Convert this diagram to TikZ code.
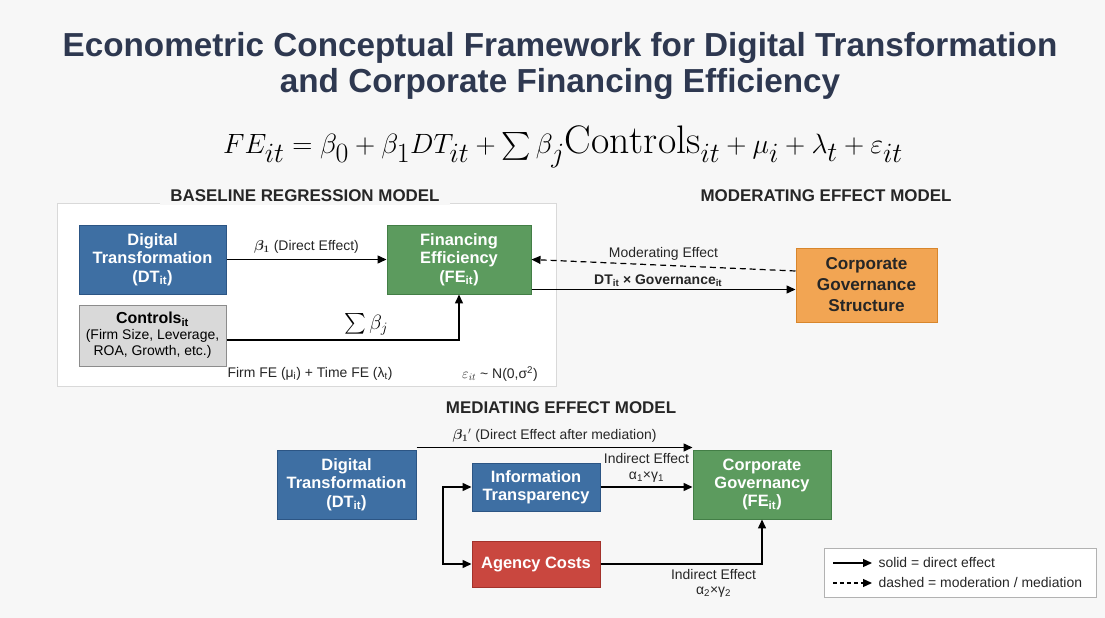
\documentclass[tikz,border=0pt]{standalone}
\usepackage{amsmath}
\usepackage{fontspec}
\setsansfont{Liberation Sans}
\renewcommand{\familydefault}{\sfdefault}
\usepackage{xcolor}
\usetikzlibrary{
    positioning,
    arrows.meta,
    calc
}

\definecolor{pagebg}{HTML}{F7F7F7}
\definecolor{titleblue}{HTML}{2E3850}
\definecolor{dtblue}{HTML}{3E6FA3}
\definecolor{dtedge}{HTML}{2C5584}
\definecolor{fegreen}{HTML}{5C9B5E}
\definecolor{feedge}{HTML}{437E46}
\definecolor{govorange}{HTML}{F2A553}
\definecolor{govedge}{HTML}{D8862C}
\definecolor{costred}{HTML}{C9473F}
\definecolor{costedge}{HTML}{A3322B}
\definecolor{ctrlgray}{HTML}{D9D9D9}

\begin{document}
\begin{tikzpicture}[
      x=1bp, y=-1bp,
      block/.style={rectangle, draw, line width=1pt, align=center, inner sep=2pt,
          font=\fontsize{16.5}{18.5}\selectfont\bfseries},
      dtblock/.style={block, fill=dtblue, draw=dtedge, text=white},
      feblock/.style={block, fill=fegreen, draw=feedge, text=white},
      govblock/.style={block, fill=govorange, draw=govedge, text=black!85},
      costblock/.style={block, fill=costred, draw=costedge, text=white},
      ctrlblock/.style={block, fill=ctrlgray, draw=black!45, text=black,
          font=\fontsize{14}{16}\selectfont},
      arrow/.style={-{Triangle[length=9pt,width=8pt]}, line width=1.5pt},
      dasharrow/.style={arrow, dashed, dash pattern=on 6pt off 4pt, line width=1.2pt},
      head/.style={font=\fontsize{17}{19}\selectfont\bfseries, text=black!85},
      lbl/.style={font=\fontsize{14}{15.5}\selectfont, text=black!85, align=center},
      frame/.style={draw=black!15, line width=1pt, fill=white}
    ]
    \fill[pagebg] (0,0) rectangle (1105,618);
    \useasboundingbox (0,0) rectangle (1105,618);

    \node[font=\fontsize{33.4}{37}\selectfont\bfseries, text=titleblue, align=center] (title) at (560,66)
        {Econometric Conceptual Framework for Digital Transformation\\and Corporate Financing Efficiency};
    \node[font=\fontsize{35.5}{40}\selectfont] (eqn) at (563,147)
        {\scalebox{1.125}{$FE_{it} = \beta_0 + \beta_1 DT_{it} + \textstyle\sum\beta_j \mathrm{Controls}_{it} + \mu_i + \lambda_t + \varepsilon_{it}$}};

    \draw[frame] (57,203) rectangle (556,386);
    \node[head, fill=pagebg, inner xsep=10pt] (basehead) at (305,196) {BASELINE REGRESSION MODEL};
    \node[head] (modhead) at (826,196) {MODERATING EFFECT MODEL};
    \node[head] (medhead) at (561,408) {MEDIATING EFFECT MODEL};

    \node[dtblock, minimum width=147bp, minimum height=69bp] (dt) at (152.5,259.5)
        {Digital\\Transformation\\(DT\textsubscript{it})};
    \node[feblock, minimum width=144bp, minimum height=69bp] (fe) at (459,259.5)
        {Financing\\Efficiency\\(FE\textsubscript{it})};
    \node[ctrlblock, minimum width=147bp, minimum height=61bp] (ctrl) at (152.5,335.5)
        {\textbf{\fontsize{16}{18}\selectfont Controls\textsubscript{it}}\\(Firm Size, Leverage,\\ROA, Growth, etc.)};
    \node[govblock, minimum width=141bp, minimum height=74bp, font=\fontsize{17.2}{21}\selectfont\bfseries] (gov) at (866.5,285)
        {Corporate\\Governance\\Structure};

    \draw[arrow] (dt) -- (fe) node[lbl, midway, above=2bp] {$\boldsymbol{\beta_1}$ (Direct Effect)};
    \draw[arrow] (ctrl.east |- 0,340) -| (fe.south)
        node[pos=0.3, above=1bp, font=\fontsize{20}{22}\selectfont] {$\sum\beta_j$};
    \node[lbl] (fixfe) at (310,374) {Firm FE (μ\textsubscript{i}) + Time FE (λ\textsubscript{t})};
    \node[lbl] (errterm) at (500,374) {$\varepsilon_{it}$ \textasciitilde{} N(0,σ\textsuperscript{2})};

    \draw[dasharrow] ([yshift=14bp]gov.west) -- (fe.east)
        node[lbl, pos=0.5, above=1bp] {Moderating Effect};
    \draw[arrow] ([yshift=5bp]fe.south east) -- ([yshift=5bp]fe.south east -| gov.west)
        node[lbl, pos=0.48, above=-1bp, font=\fontsize{14}{15.5}\selectfont\bfseries] {DT\textsubscript{it} × Governance\textsubscript{it}};

    \node[dtblock, minimum width=139bp, minimum height=69bp] (dtm) at (346.5,484.5)
        {Digital\\Transformation\\(DT\textsubscript{it})};
    \node[dtblock, minimum width=128bp, minimum height=48bp] (info) at (536,487)
        {Information\\Transparency};
    \node[costblock, minimum width=128bp, minimum height=46bp] (agency) at (536,564)
        {Agency Costs};
    \node[feblock, minimum width=138bp, minimum height=69bp] (cg) at (762,484.5)
        {Corporate\\Governancy\\(FE\textsubscript{it})};

    \draw[arrow] ([yshift=2bp]dtm.north east) -- ([yshift=2bp]dtm.north east -| cg.west)
        node[lbl, midway, above=1bp] {$\boldsymbol{\beta_1}{}'$ (Direct Effect after mediation)};
    \coordinate (fork) at (443,528);
    \draw[arrow] (fork) |- (info.west);
    \draw[arrow] (fork) |- (agency.west);
    \draw[arrow] (info) -- (info -| cg.west)
        node[lbl, midway, above=1bp] {Indirect Effect\\α\textsubscript{1}×γ\textsubscript{1}};
    \draw[arrow] (agency.east) -| (cg.south)
        node[lbl, pos=0.35, below=1bp] {Indirect Effect\\α\textsubscript{2}×γ\textsubscript{2}};

    \node[draw=black!30, fill=white, line width=0.8pt, minimum width=272bp, minimum height=49bp] (legend) at (960,572.5) {};
    \coordinate (solA) at (833,563);
    \coordinate (solB) at (872,563);
    \coordinate (dasA) at (833,583);
    \coordinate (dasB) at (872,583);
    \draw[arrow, line width=1.2pt] (solA) -- (solB);
    \draw[dasharrow, dash pattern=on 4pt off 3pt] (dasA) -- (dasB);
    \node[lbl, anchor=west] (legsol) at (875,563) {solid = direct effect};
    \node[lbl, anchor=west] (legdas) at (875,583) {dashed = moderation / mediation};
  \end{tikzpicture}
\end{document}
